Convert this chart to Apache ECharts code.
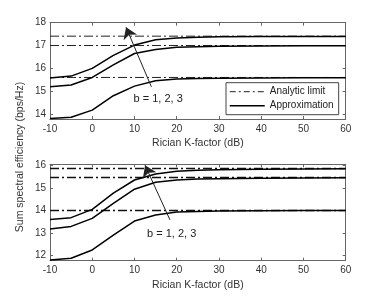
<!DOCTYPE html>
<html><head><meta charset="utf-8">
<script src="https://cdn.jsdelivr.net/npm/echarts@6/dist/echarts.min.js"></script>
<style>html,body{margin:0;padding:0;background:#fff}#c{width:382px;height:299px}</style>
</head><body><div id="c"></div>
<script>
const kFactor = [-10, -5, 0, 5, 10, 15, 20, 25, 30, 40, 50, 60];
// Top panel
const topB3 = [15.58, 15.66, 16.0, 16.57, 17.02, 17.25, 17.33, 17.36, 17.38, 17.39, 17.4, 17.4];
const topB2 = [15.19, 15.27, 15.6, 16.15, 16.65, 16.83, 16.92, 16.95, 16.97, 16.98, 16.99, 16.99];
const topB1 = [13.8, 13.86, 14.17, 14.8, 15.22, 15.46, 15.53, 15.56, 15.57, 15.58, 15.59, 15.59];
const topLimits = [17.41, 17.0, 15.6];
// Bottom panel
const botB3 = [13.6, 13.68, 14.05, 14.77, 15.36, 15.63, 15.75, 15.79, 15.82, 15.84, 15.85, 15.86];
const botB2 = [13.17, 13.29, 13.65, 14.32, 14.95, 15.26, 15.36, 15.4, 15.42, 15.44, 15.45, 15.46];
const botB1 = [11.79, 11.87, 12.24, 12.9, 13.53, 13.8, 13.93, 13.96, 13.98, 13.99, 14.0, 14.0];
const botLimits = [15.87, 15.47, 14.0];
const topArrow = [[14.0, 15.19], [8.0, 17.8]];
const botArrow = [[18.4, 13.58], [12.5, 16.02]];
const annotText = 'b = 1, 2, 3';
const annotPos = [[15.6, 14.64], [18.8, 12.94]];

const font = 'Liberation Sans, Arial, Helvetica, sans-serif';
const axisCol = '#666';
const labCol = '#333';
const chart = echarts.init(document.getElementById('c'));

function pair(arr) { return kFactor.map((k, i) => [k, arr[i]]); }

const grids = [
  {left: 50, top: 22.7, width: 295.7, height: 96.3},
  {left: 50, top: 164.3, width: 295.7, height: 96.4}
];

const xAxes = [], yAxes = [];
[0, 1].forEach(g => {
  xAxes.push({
    type: 'value', gridIndex: g, min: -10, max: 60, interval: 10, position: 'bottom',
    name: 'Rician K-factor (dB)', nameLocation: 'middle', nameGap: 19,
    nameTextStyle: {fontFamily: font, fontSize: 10.5, color: labCol},
    axisLine: {onZero: false, lineStyle: {color: axisCol, width: 1}},
    axisTick: {inside: true, length: 3, lineStyle: {color: axisCol}},
    axisLabel: {fontFamily: font, fontSize: 10, color: labCol, margin: 5},
    splitLine: {show: false}
  });
  xAxes.push({
    type: 'value', gridIndex: g, min: -10, max: 60, interval: 10, position: 'top',
    axisLine: {onZero: false, lineStyle: {color: axisCol, width: 1}},
    axisTick: {inside: true, length: 3, lineStyle: {color: axisCol}},
    axisLabel: {show: false}, splitLine: {show: false}
  });
});
const yRanges = [[13.78, 18], [11.76, 16.06]];
[0, 1].forEach(g => {
  yAxes.push({
    type: 'value', gridIndex: g, min: yRanges[g][0], max: yRanges[g][1], splitNumber: 4, position: 'left',
    axisLine: {show: true, onZero: false, lineStyle: {color: axisCol, width: 1}},
    axisTick: {inside: true, length: 3, lineStyle: {color: axisCol}},
    axisLabel: {fontFamily: font, fontSize: 10, color: labCol, margin: 4, showMinLabel: false, showMaxLabel: g === 0,
      formatter: v => (Math.abs(v - Math.round(v)) < 1e-6 ? String(Math.round(v)) : '')},
    splitLine: {show: false}
  });
  yAxes.push({
    type: 'value', gridIndex: g, min: yRanges[g][0], max: yRanges[g][1], splitNumber: 4, position: 'right',
    axisLine: {show: true, onZero: false, lineStyle: {color: axisCol, width: 1}},
    axisTick: {inside: true, length: 3, lineStyle: {color: axisCol}},
    axisLabel: {show: false}, splitLine: {show: false}
  });
});

const series = [];
const panels = [
  {curves: [topB1, topB2, topB3], limits: topLimits, arrow: topArrow, dashW: 1, dashC: '#222'},
  {curves: [botB1, botB2, botB3], limits: botLimits, arrow: botArrow, dashW: 1.6, dashC: '#111'}
];
panels.forEach((p, g) => {
  p.limits.forEach(v => {
    series.push({
      name: 'Analytic limit', type: 'line', xAxisIndex: g * 2, yAxisIndex: g * 2,
      data: [[-10, v], [60, v]], symbol: 'none', silent: true,
      lineStyle: {color: p.dashC, width: p.dashW, type: [9, 3, 2, 3]},
      itemStyle: {color: p.dashC}, z: 2
    });
  });
  p.curves.forEach(c => {
    series.push({
      name: 'Approximation', type: 'line', xAxisIndex: g * 2, yAxisIndex: g * 2,
      data: pair(c), symbol: 'none', silent: true,
      lineStyle: {color: '#000', width: 1.5}, itemStyle: {color: '#000'}, z: 3
    });
  });
  series.push({
    type: 'lines', coordinateSystem: 'cartesian2d', xAxisIndex: g * 2, yAxisIndex: g * 2,
    data: [{coords: p.arrow}], symbol: ['none', 'arrow'], symbolSize: [0, 11],
    lineStyle: {color: '#222', width: 1, opacity: 1}, silent: true, z: 5
  });
});

chart.setOption({
  animation: false,
  backgroundColor: '#fff',
  grid: grids,
  xAxis: xAxes,
  yAxis: yAxes,
  legend: {
    data: [
      {name: 'Analytic limit', itemStyle: {opacity: 0}, lineStyle: {width: 1, color: '#222', type: [6, 3, 2, 3]}},
      {name: 'Approximation', itemStyle: {opacity: 0}, lineStyle: {width: 1.5, color: '#000'}}
    ],
    left: 226, top: 82.7, orient: 'vertical',
    itemWidth: 35, itemHeight: 10, itemGap: 4,
    padding: [4, 5, 4, 3],
    borderColor: '#444', borderWidth: 1, borderRadius: 0, backgroundColor: '#fff',
    textStyle: {fontFamily: font, fontSize: 10, color: '#222'},
    selectedMode: false
  },
  series: series
});

const graphics = [{
  type: 'text', x: 20, y: 157, rotation: Math.PI / 2,
  style: {text: 'Sum spectral efficiency (bps/Hz)', fontFamily: font, fontSize: 10.5, fill: labCol, align: 'center', verticalAlign: 'middle'}
}];
annotPos.forEach((pt, g) => {
  const px = chart.convertToPixel({xAxisIndex: g * 2, yAxisIndex: g * 2}, pt);
  graphics.push({
    type: 'text', x: px[0], y: px[1], z: 10,
    style: {text: annotText, fontFamily: font, fontSize: 11, fill: '#222', align: 'center', verticalAlign: 'middle'}
  });
});
chart.setOption({graphic: graphics});
</script></body></html>
